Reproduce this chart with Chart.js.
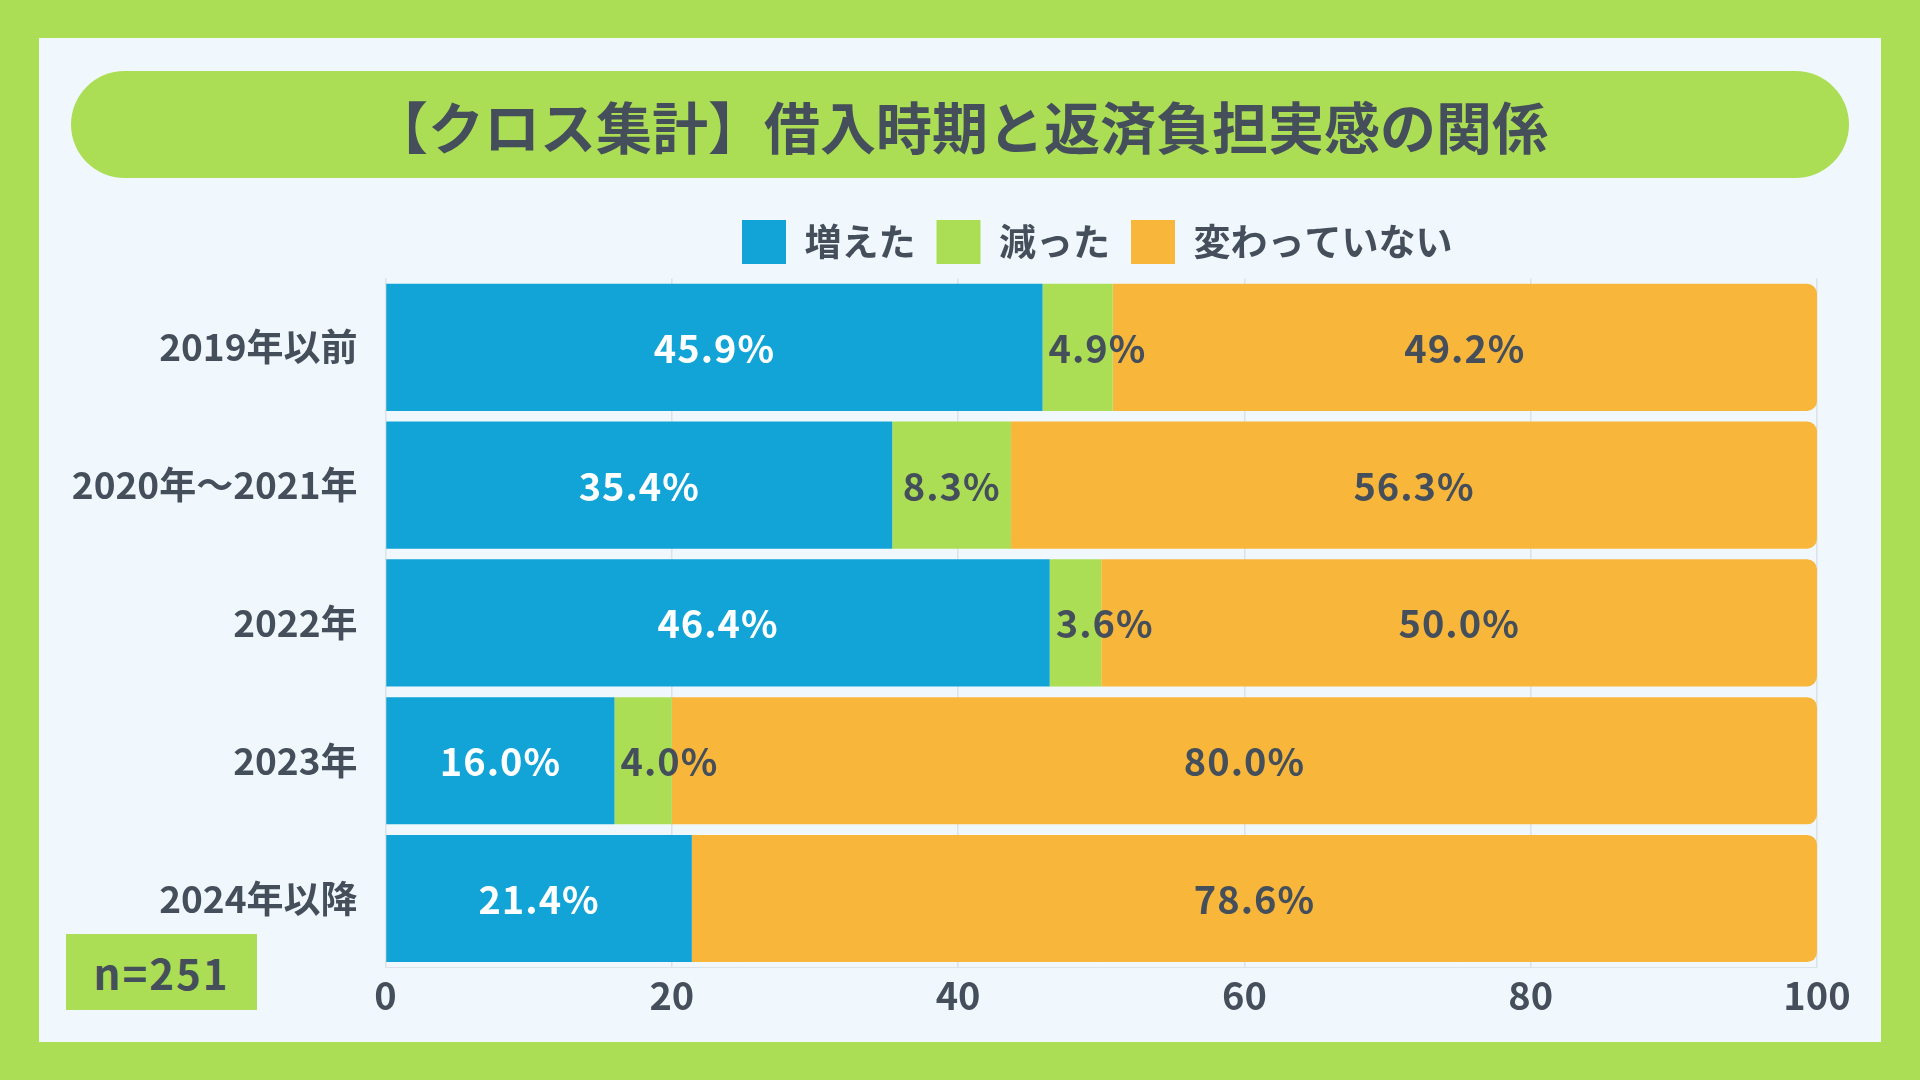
<!DOCTYPE html>
<html lang="ja">
<head>
<meta charset="utf-8">
<script src="https://cdn.jsdelivr.net/npm/chart.js@4.4.1/dist/chart.umd.min.js"></script>
<style>
  html, body { margin: 0; padding: 0; }
  body { width: 1920px; height: 1080px; background: #ABDE55; position: relative; overflow: hidden;
         font-family: "Noto Sans CJK JP", "Noto Sans", sans-serif; }
  #panel { position: absolute; left: 39px; top: 38px; width: 1842px; height: 1004px; background: #F1F8FD; }
  #title { position: absolute; left: 71px; top: 71px; width: 1778px; height: 107px; border-radius: 54px;
           background: #ABDE55; color: #454F5B; font-weight: 700; font-size: 56px;
           display: flex; align-items: center; justify-content: center; line-height: 1; }
  #chartWrap { position: absolute; left: 39px; top: 190px; width: 1842px; height: 852px; }
  #nbox { position: absolute; left: 66px; top: 934px; width: 191px; height: 76px; background: #ABDE55;
          color: #454F5B; font-weight: 700; font-size: 42px; letter-spacing: 2px;
          display: flex; align-items: center; justify-content: center; line-height: 1; }
</style>
</head>
<body>
<div id="panel"></div>
<div id="title">【クロス集計】借入時期と返済負担実感の関係</div>
<div id="chartWrap"><canvas id="c" width="1842" height="852"></canvas></div>
<div id="nbox">n=251</div>
<script>
// ---- data ----
const categories = ['2019年以前', '2020年〜2021年', '2022年', '2023年', '2024年以降'];
const seriesNames = ['増えた', '減った', '変わっていない'];
const increased = [45.9, 35.4, 46.4, 16.0, 21.4];
const decreased = [4.9, 8.3, 3.6, 4.0, 0];
const unchanged = [49.2, 56.3, 50.0, 80.0, 78.6];
const xTicks = [0, 20, 40, 60, 80, 100];

const TEXT = '#454F5B';
const FONT = '"Noto Sans CJK JP", "Noto Sans", sans-serif';
const COLORS = ['#12A4D6', '#ABDE55', '#F8B73A'];

const legendShift = {
  id: 'legendShift',
  afterLayout(chart) {
    const lg = chart.legend;
    if (!lg) return;
    const ca = chart.chartArea;
    const p = lg.options.labels.padding;
    const groupW = lg.lineWidths[0] - p;
    const curStart = (lg.left + p + lg.right - lg.lineWidths[0]) / 2;
    const wantStart = (ca.left + ca.right) / 2 - groupW / 2 - 4;
    const dx = wantStart - curStart;
    lg.left += dx; lg.right += dx;
    lg.top -= 4.5; lg.bottom -= 4.5;
  }
};

const valueLabels = {
  id: 'valueLabels',
  afterDatasetsDraw(chart) {
    const ctx = chart.ctx;
    ctx.save();
    ctx.font = '700 38px ' + FONT;
    ctx.textBaseline = 'middle';
    ctx.textAlign = 'center';
    try { ctx.letterSpacing = '1px'; } catch (e) {}
    chart.data.datasets.forEach((ds, di) => {
      const meta = chart.getDatasetMeta(di);
      meta.data.forEach((bar, i) => {
        const v = ds.data[i];
        if (!v) return;
        const text = v.toFixed(1) + '%';
        const w = ctx.measureText(text).width;
        const s = Math.min(bar.base, bar.x), e = Math.max(bar.base, bar.x);
        let x = (s + e) / 2;
        if (e - s < w) x = s + w / 2 + 6;
        ctx.fillStyle = di === 0 ? '#FFFFFF' : TEXT;
        ctx.fillText(text, x, bar.y + 1);
      });
    });
    ctx.restore();
  }
};

function makeDataset(label, data, color, last) {
  const ds = {
    label, data,
    backgroundColor: color,
    borderWidth: 0,
    barPercentage: 0.923,
    categoryPercentage: 1.0
  };
  if (last) { ds.borderRadius = 10; ds.borderSkipped = 'start'; }
  return ds;
}

function draw() {
  new Chart(document.getElementById('c'), {
    type: 'bar',
    data: {
      labels: categories,
      datasets: [
        makeDataset(seriesNames[0], increased, COLORS[0], false),
        makeDataset(seriesNames[1], decreased, COLORS[1], false),
        makeDataset(seriesNames[2], unchanged, COLORS[2], true)
      ]
    },
    options: {
      indexAxis: 'y',
      responsive: false,
      animation: false,
      devicePixelRatio: 1,
      layout: { padding: { top: 13.5, left: 0, right: 64, bottom: 19 } },
      plugins: {
        legend: {
          position: 'top',
          labels: {
            boxWidth: 44, boxHeight: 44, padding: 21,
            color: TEXT,
            font: { family: FONT, size: 37, weight: '700' }
          }
        },
        tooltip: { enabled: false }
      },
      scales: {
        x: {
          stacked: true, min: 0, max: 100,
          afterBuildTicks(scale) { scale.ticks = xTicks.map(v => ({ value: v })); },
          ticks: { color: TEXT, padding: 5, font: { family: FONT, size: 38, weight: '700' } },
          grid: { color: '#DCE2E8', drawTicks: false, lineWidth: 1.5 },
          border: { color: '#DCE2E8' }
        },
        y: {
          stacked: true,
          afterFit(scale) { scale.width = 346.5; },
          ticks: { color: TEXT, padding: 20, font: { family: FONT, size: 37, weight: '700' } },
          grid: { display: false },
          border: { color: '#DCE2E8' }
        }
      }
    },
    plugins: [legendShift, valueLabels]
  });
}

if (document.fonts && document.fonts.load) {
  Promise.all([
    document.fonts.load('700 38px "Noto Sans CJK JP"', '増えた2019年'),
  ]).then(draw, draw);
} else { draw(); }
</script>
</body>
</html>
